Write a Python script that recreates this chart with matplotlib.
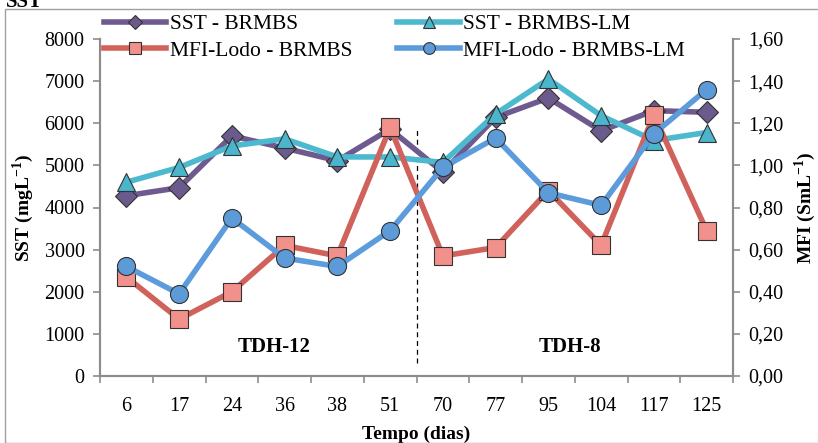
import numpy as np
import matplotlib.pyplot as plt
from matplotlib.patches import Rectangle

plt.rcParams['font.family'] = ['Liberation Serif', 'DejaVu Serif']
plt.rcParams['mathtext.fontset'] = 'custom'
plt.rcParams['mathtext.rm'] = 'Liberation Serif'
plt.rcParams['mathtext.bf'] = 'Liberation Serif:bold'

dias = ['6', '17', '24', '36', '38', '51', '70', '77', '95', '104', '117', '125']
sst_brmbs = [4280, 4470, 5700, 5410, 5110, 5860, 4840, 6140, 6600, 5820, 6300, 6260]
sst_brmbs_lm = [4600, 4950, 5460, 5630, 5200, 5200, 5070, 6220, 7050, 6180, 5590, 5780]
mfi_brmbs = [0.47, 0.27, 0.40, 0.62, 0.57, 1.18, 0.57, 0.61, 0.88, 0.62, 1.24, 0.69]
mfi_brmbs_lm = [0.52, 0.39, 0.75, 0.56, 0.52, 0.69, 0.99, 1.13, 0.87, 0.81, 1.15, 1.36]

fig = plt.figure(figsize=(8.18, 4.43), dpi=100)
ax = fig.add_axes([100/818, 1 - 376/443, 633/818, 337/443])
ax2 = ax.twinx()

x = np.arange(len(dias))
gray = '#8c8c8c'

l1, = ax.plot(x, sst_brmbs, '-', color='#6e5a8e', lw=4, marker='D', ms=11,
              mfc='#6b5a8c', mec='#333333', mew=0.8, label='SST - BRMBS', zorder=3)
l2, = ax.plot(x, sst_brmbs_lm, '-', color='#4cb9cf', lw=4, marker='^', ms=13,
              mfc='#4ab5cb', mec='#333333', mew=0.8, label='SST - BRMBS-LM', zorder=4)
l3, = ax2.plot(x, mfi_brmbs, '-', color='#d0625b', lw=4, marker='s', ms=13,
               mfc='#f2918b', mec='#333333', mew=0.8, label='MFI-Lodo - BRMBS', zorder=3)
l4, = ax2.plot(x, mfi_brmbs_lm, '-', color='#5d9cdc', lw=4, marker='o', ms=13,
               mfc='#5d9bd8', mec='#333333', mew=0.8, label='MFI-Lodo - BRMBS-LM', zorder=4)

ax.axvline(5.5, ymin=0.04, ymax=0.74, color='black', lw=0.9, ls=(0, (4, 3)))

ax.set_xlim(-0.5, 11.5)
ax.set_ylim(0, 8000)
ax2.set_ylim(0, 1.6)
ax.set_yticks(np.arange(0, 8001, 1000))
ax2.set_yticks(np.arange(0, 1.61, 0.2))
ax2.set_yticklabels([f'{v:.2f}'.replace('.', ',') for v in np.arange(0, 1.61, 0.2)])
ax.set_xticks(x)
ax.set_xticklabels(dias)
ax.set_xticks(np.arange(-0.5, 12, 1), minor=True)
ax.tick_params(axis='x', which='major', length=0, labelsize=14.5, pad=15)
ax.tick_params(axis='x', which='minor', length=5, color=gray, width=1.2)
ax.tick_params(axis='y', length=5, color=gray, width=1.2, labelsize=14.5, pad=6)
ax2.tick_params(axis='y', length=5, color=gray, width=1.2, labelsize=14.5, pad=6)

for a in (ax, ax2):
    a.spines['top'].set_visible(False)
    for s in ('left', 'right', 'bottom'):
        a.spines[s].set_color(gray)
        a.spines[s].set_linewidth(1.5)

ax.set_ylabel(r'SST (mgL$^{\mathbf{-1}}$)', fontsize=14, fontweight='bold', labelpad=6)
ax2.set_ylabel(r'MFI (SmL$^{\mathbf{-1}}$)', fontsize=14, fontweight='bold', labelpad=6)
ax.set_xlabel('Tempo (dias)', fontsize=14, fontweight='bold', labelpad=7)

ax.text(2.8, 700, 'TDH-12', fontsize=15, fontweight='bold', ha='center', va='center')
ax.text(8.4, 700, 'TDH-8', fontsize=15, fontweight='bold', ha='center', va='center')

fig.text(6/818, 1 - 2/443, 'SST', fontsize=15, fontweight='bold', ha='left', va='center')

fig.legend(handles=[l1, l3, l2, l4], ncol=2, loc='upper left',
           bbox_to_anchor=(104/818, 1 - 14/443), frameon=False, fontsize=15.5,
           handlelength=2.9, handletextpad=0.15, columnspacing=2.1,
           labelspacing=0.3, borderaxespad=0, borderpad=0, markerscale=0.65)

fig.patches.append(Rectangle((5/818, 0), 1, 1 - 9/443, transform=fig.transFigure,
                             fill=False, edgecolor='#a0a0a0', lw=1.0))

fig.savefig('out.png', dpi=100)
